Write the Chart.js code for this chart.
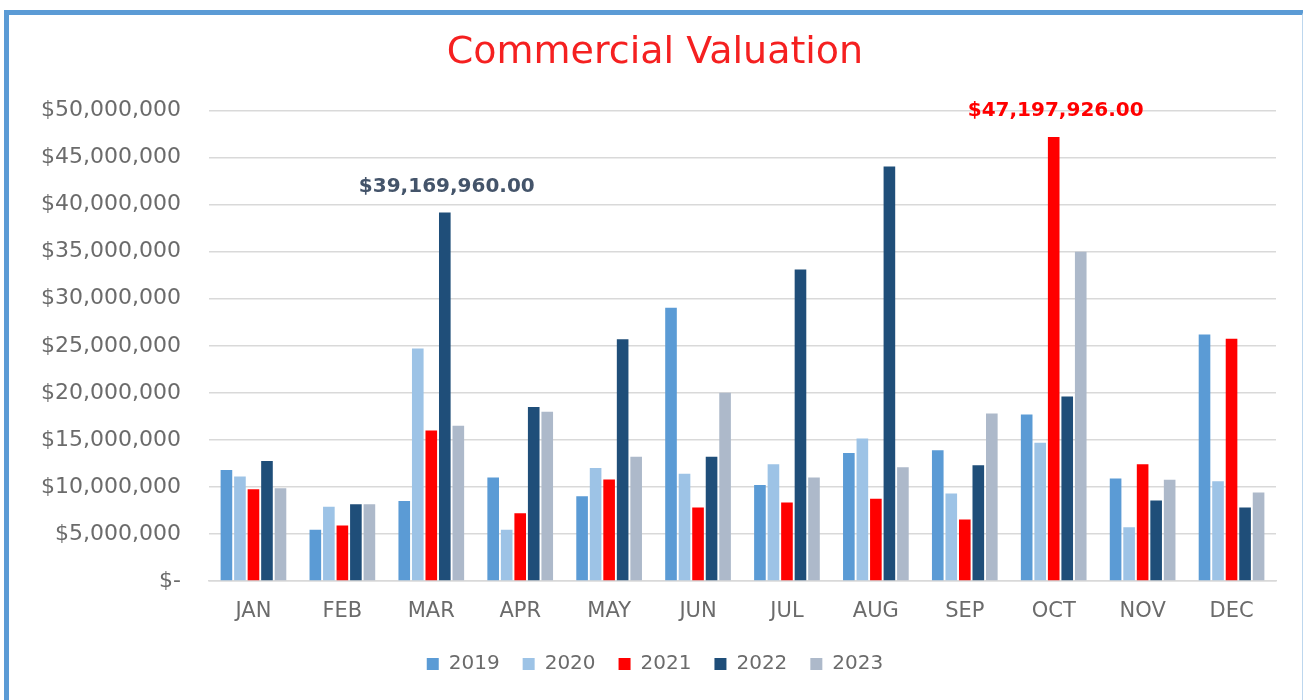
<!DOCTYPE html>
<html>
<head>
<meta charset="utf-8">
<script src="https://cdn.jsdelivr.net/npm/chart.js@4/dist/chart.umd.min.js"></script>
<style>
  html, body { margin: 0; padding: 0; background: #ffffff; overflow: hidden; }
  body { width: 1303px; height: 700px; position: relative; }
  #frame { position: absolute; left: 4px; top: 10px; width: 1293px; height: 760px;
           border-left: 5px solid #5B9BD5; border-top: 5px solid #5B9BD5; border-right: 2px solid #BDD7EE;
           box-sizing: content-box; pointer-events: none; }
  #c { position: absolute; left: 0; top: 0; }
</style>
</head>
<body>
<canvas id="c" width="1303" height="700"></canvas>
<div id="frame"></div>
<script>
const months = ['JAN','FEB','MAR','APR','MAY','JUN','JUL','AUG','SEP','OCT','NOV','DEC'];
const years = ['2019','2020','2021','2022','2023'];
const v2019 = [11800000, 5450000, 8500000, 11000000, 9000000, 29050000, 10200000, 13600000, 13900000, 17700000, 10900000, 26200000];
const v2020 = [11100000, 7900000, 24700000, 5450000, 12000000, 11400000, 12400000, 15150000, 9300000, 14700000, 5700000, 10600000];
const v2021 = [9750000, 5900000, 16000000, 7200000, 10800000, 7800000, 8350000, 8750000, 6550000, 47197926, 12400000, 25750000];
const v2022 = [12750000, 8150000, 39169960, 18500000, 25700000, 13200000, 33100000, 44050000, 12300000, 19600000, 8550000, 7800000];
const v2023 = [9850000, 8150000, 16500000, 18000000, 13200000, 20000000, 11000000, 12100000, 17800000, 35000000, 10750000, 9400000];
const yTicks = [0, 5000000, 10000000, 15000000, 20000000, 25000000, 30000000, 35000000, 40000000, 45000000, 50000000];
const labeledBars = [
  { year: '2022', month: 'MAR', color: '#44546A' },
  { year: '2021', month: 'OCT', color: '#FF0000' }
];

const seriesValues = [v2019, v2020, v2021, v2022, v2023];
const seriesColors = ['#5B9BD5', '#9DC3E6', '#FF0000', '#1F4E79', '#ADB9CA'];
const FONT = "'DejaVu Sans', sans-serif";

function fmtMoney(v, decimals) {
  return '$' + v.toLocaleString('en-US', { minimumFractionDigits: decimals, maximumFractionDigits: decimals });
}

const labelPlugin = {
  id: 'barLabels',
  afterDatasetsDraw(chart) {
    const ctx = chart.ctx;
    ctx.save();
    ctx.font = "bold 20px " + FONT;
    ctx.textAlign = 'center';
    ctx.textBaseline = 'middle';
    labeledBars.forEach(lb => {
      const di = years.indexOf(lb.year);
      const mi = months.indexOf(lb.month);
      const el = chart.getDatasetMeta(di).data[mi];
      const val = seriesValues[di][mi];
      ctx.fillStyle = lb.color;
      ctx.fillText(fmtMoney(val, 2), el.x + 2, el.y - 26);
    });
    ctx.restore();
  }
};

new Chart(document.getElementById('c'), {
  type: 'bar',
  data: {
    labels: months,
    datasets: years.map((y, i) => ({
      label: y,
      data: seriesValues[i],
      backgroundColor: seriesColors[i],
      borderWidth: 0,
      categoryPercentage: 0.76,
      barPercentage: 0.86
    }))
  },
  options: {
    responsive: false,
    animation: false,
    devicePixelRatio: 1,
    layout: { padding: { left: 34, right: 27, top: 0, bottom: 16 } },
    plugins: {
      title: {
        display: true,
        text: 'Commercial Valuation',
        color: '#F52020',
        font: { family: FONT, size: 38, weight: 'normal', lineHeight: 1.2 },
        padding: { top: 30, bottom: 35 }
      },
      legend: {
        position: 'bottom',
        labels: {
          boxWidth: 12, boxHeight: 12, padding: 23,
          color: '#6B6B6B',
          font: { family: FONT, size: 20 }
        }
      },
      tooltip: { enabled: false }
    },
    scales: {
      x: {
        grid: { display: false, drawTicks: false },
        border: { display: true, color: '#D9D9D9', width: 1.5 },
        ticks: { color: '#6B6B6B', font: { family: FONT, size: 21 }, padding: 18, maxRotation: 0 },
        afterFit(scale) { scale.height = 50; }
      },
      y: {
        min: 0, max: 50000000,
        afterBuildTicks(scale) { scale.ticks = yTicks.map(v => ({ value: v })); },
        grid: { color: '#D9D9D9', lineWidth: 1.5, drawTicks: false },
        border: { display: false },
        ticks: {
          color: '#6B6B6B', font: { family: FONT, size: 22 }, padding: 28,
          callback: v => v === 0 ? '$-' : fmtMoney(v, 0)
        },
        afterFit(scale) { scale.width = 175; }
      }
    }
  },
  plugins: [labelPlugin]
});
</script>
</body>
</html>
